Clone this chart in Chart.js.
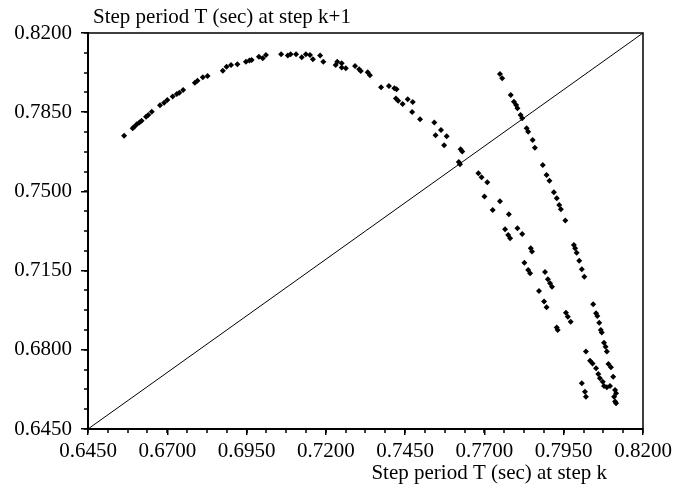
<!DOCTYPE html>
<html>
<head>
<meta charset="utf-8">
<script src="https://cdn.jsdelivr.net/npm/chart.js@4/dist/chart.umd.min.js"></script>
<style>
  html, body { margin: 0; padding: 0; background: #fff; }
</style>
</head>
<body>
<canvas id="chart" width="687" height="495"></canvas>
<script>
/* data: step period at step k vs step k+1 (sec) */
const periodK = [
	0.6564, 0.6591, 0.6596, 0.6604, 0.6612, 0.6619, 0.6633, 0.6640, 0.6651, 0.6677,
	0.6690, 0.6700, 0.6717, 0.6730, 0.6738, 0.6750, 0.6787, 0.6795, 0.6812, 0.6827,
	0.6875, 0.6887, 0.6901, 0.6921, 0.6948, 0.6959, 0.6966, 0.6989, 0.7001, 0.7011,
	0.7059, 0.7080, 0.7089, 0.7106, 0.7124, 0.7137, 0.7150, 0.7159, 0.7182, 0.7192,
	0.7231, 0.7236, 0.7250, 0.7250, 0.7263, 0.7292, 0.7305, 0.7310, 0.7332, 0.7339,
	0.7374, 0.7399, 0.7416, 0.7423, 0.7421, 0.7428, 0.7442, 0.7458, 0.7474, 0.7472,
	0.7497, 0.7542, 0.7563, 0.7546, 0.7581, 0.7573, 0.7625, 0.7630, 0.7619, 0.7623,
	0.7681, 0.7691, 0.7709, 0.7700, 0.7726, 0.7749, 0.7777, 0.7765, 0.7775, 0.7781,
	0.7804, 0.7819, 0.7846, 0.7850, 0.7826, 0.7838, 0.7844, 0.7891, 0.7900, 0.7907,
	0.7913, 0.7872, 0.7888, 0.7896, 0.7957, 0.7963, 0.7972, 0.7928, 0.7931,
	0.7749, 0.7756, 0.7783, 0.7793, 0.7800, 0.7804, 0.7814, 0.7819, 0.7833, 0.7838,
	0.7852, 0.7859, 0.7884, 0.7896, 0.7905, 0.7919, 0.7928, 0.7936, 0.7941, 0.7955,
	0.7982, 0.7986, 0.7991, 0.7999, 0.8007, 0.8015, 0.8043, 0.8052, 0.8056, 0.8062,
	0.8067, 0.8070, 0.8077, 0.8082, 0.8086, 0.8091, 0.8099, 0.8106, 0.8020, 0.8033,
	0.8041, 0.8052, 0.8059, 0.8064, 0.8073, 0.8077, 0.8086, 0.8096, 0.8112, 0.8115,
	0.8109, 0.8112, 0.8115, 0.8007, 0.8017, 0.8020
];
const periodNext = [
	0.7746, 0.7779, 0.7786, 0.7797, 0.7805, 0.7812, 0.7830, 0.7838, 0.7852, 0.7881,
	0.7892, 0.7904, 0.7919, 0.7930, 0.7936, 0.7948, 0.7980, 0.7989, 0.8004, 0.8010,
	0.8033, 0.8051, 0.8059, 0.8062, 0.8073, 0.8078, 0.8081, 0.8095, 0.8088, 0.8103,
	0.8106, 0.8101, 0.8106, 0.8106, 0.8093, 0.8106, 0.8103, 0.8084, 0.8101, 0.8073,
	0.8059, 0.8073, 0.8066, 0.8048, 0.8044, 0.8054, 0.8040, 0.8032, 0.8026, 0.8013,
	0.7960, 0.7966, 0.7956, 0.7951, 0.7911, 0.7901, 0.7886, 0.7907, 0.7895, 0.7851,
	0.7819, 0.7804, 0.7771, 0.7748, 0.7744, 0.7704, 0.7686, 0.7676, 0.7630, 0.7620,
	0.7580, 0.7562, 0.7540, 0.7477, 0.7418, 0.7456, 0.7399, 0.7333, 0.7307, 0.7293,
	0.7337, 0.7312, 0.7249, 0.7234, 0.7185, 0.7153, 0.7138, 0.7144, 0.7112, 0.7094,
	0.7079, 0.7060, 0.7013, 0.6988, 0.6964, 0.6946, 0.6924, 0.6899, 0.6887,
	0.8019, 0.8000, 0.7926, 0.7896, 0.7882, 0.7867, 0.7838, 0.7823, 0.7779, 0.7764,
	0.7727, 0.7693, 0.7617, 0.7573, 0.7547, 0.7496, 0.7470, 0.7440, 0.7421, 0.7371,
	0.7263, 0.7249, 0.7229, 0.7194, 0.7156, 0.7123, 0.7001, 0.6961, 0.6949, 0.6920,
	0.6887, 0.6876, 0.6831, 0.6814, 0.6792, 0.6737, 0.6723, 0.6681, 0.6792, 0.6752,
	0.6740, 0.6718, 0.6693, 0.6674, 0.6659, 0.6640, 0.6634, 0.6640, 0.6622, 0.6608,
	0.6593, 0.6571, 0.6564, 0.6652, 0.6615, 0.6593
];

const axisRange = [0.645, 0.82];
const xTickValues = [0.645, 0.67, 0.695, 0.72, 0.745, 0.77, 0.795, 0.82];
const yTickValues = [0.645, 0.68, 0.715, 0.75, 0.785, 0.82];
const xMinorStep = 0.00625;
const yMinorStep = 0.00875;
const xTitle = 'Step period T (sec) at step k';
const yTitle = 'Step period T (sec) at step k+1';

const FONT = '"Liberation Serif", "Times New Roman", serif';

// top/right frame, minor ticks and the two axis titles
const decorations = {
	id: 'decorations',
	afterDraw(chart) {
		const { ctx, chartArea: a, scales } = chart;
		ctx.save();
		ctx.strokeStyle = '#000';

		ctx.lineWidth = 1.5;
		ctx.beginPath();
		ctx.moveTo(a.left, a.top);
		ctx.lineTo(a.right, a.top);
		ctx.lineTo(a.right, a.bottom);
		ctx.stroke();

		ctx.beginPath();
		for (let v = axisRange[0]; v <= axisRange[1] + 1e-9; v += xMinorStep) {
			const px = Math.round(scales.x.getPixelForValue(v));
			ctx.moveTo(px, a.bottom);
			ctx.lineTo(px, a.bottom + 4);
		}
		for (let v = axisRange[0]; v <= axisRange[1] + 1e-9; v += yMinorStep) {
			const py = Math.round(scales.y.getPixelForValue(v));
			ctx.moveTo(a.left - 4, py);
			ctx.lineTo(a.left, py);
		}
		ctx.stroke();

		ctx.fillStyle = '#000';
		ctx.font = '21px ' + FONT;
		ctx.textBaseline = 'alphabetic';
		ctx.textAlign = 'left';
		ctx.fillText(yTitle, 93, 23);
		ctx.textAlign = 'right';
		ctx.fillText(xTitle, 607, 479);
		ctx.restore();
	}
};

new Chart(document.getElementById('chart'), {
	type: 'scatter',
	data: {
		datasets: [
			{
				type: 'line',
				data: axisRange.map(v => ({ x: v, y: v })),
				borderColor: '#000',
				borderWidth: 1,
				pointRadius: 0,
			},
			{
				data: periodK.map((x, i) => ({ x, y: periodNext[i] })),
				pointStyle: 'rectRot',
				pointRadius: 3,
				backgroundColor: '#000',
				borderWidth: 0,
			}
		]
	},
	options: {
		responsive: false,
		animation: false,
		layout: { padding: { top: 33, right: 44, left: 0, bottom: 0 } },
		plugins: {
			legend: { display: false },
			tooltip: { enabled: false },
		},
		scales: {
			x: {
				type: 'linear',
				min: axisRange[0],
				max: axisRange[1],
				afterBuildTicks: scale => { scale.ticks = xTickValues.map(value => ({ value })); },
				afterFit: scale => { scale.height = 66; },
				border: { display: true, color: '#000', width: 2 },
				grid: { drawOnChartArea: false, color: '#000', tickLength: 6, lineWidth: 1.5 },
				ticks: {
					color: '#000',
					padding: 4,
					maxRotation: 0,
					font: { family: FONT, size: 21 },
					callback: v => v.toFixed(4),
				},
			},
			y: {
				type: 'linear',
				min: axisRange[0],
				max: axisRange[1],
				afterBuildTicks: scale => { scale.ticks = yTickValues.map(value => ({ value })); },
				afterFit: scale => { scale.width = 88; },
				border: { display: true, color: '#000', width: 2 },
				grid: { drawOnChartArea: false, color: '#000', tickLength: 7, lineWidth: 1.5 },
				ticks: {
					color: '#000',
					padding: 9,
					font: { family: FONT, size: 21 },
					callback: v => v.toFixed(4),
				},
			}
		}
	},
	plugins: [decorations],
});
</script>
</body>
</html>
